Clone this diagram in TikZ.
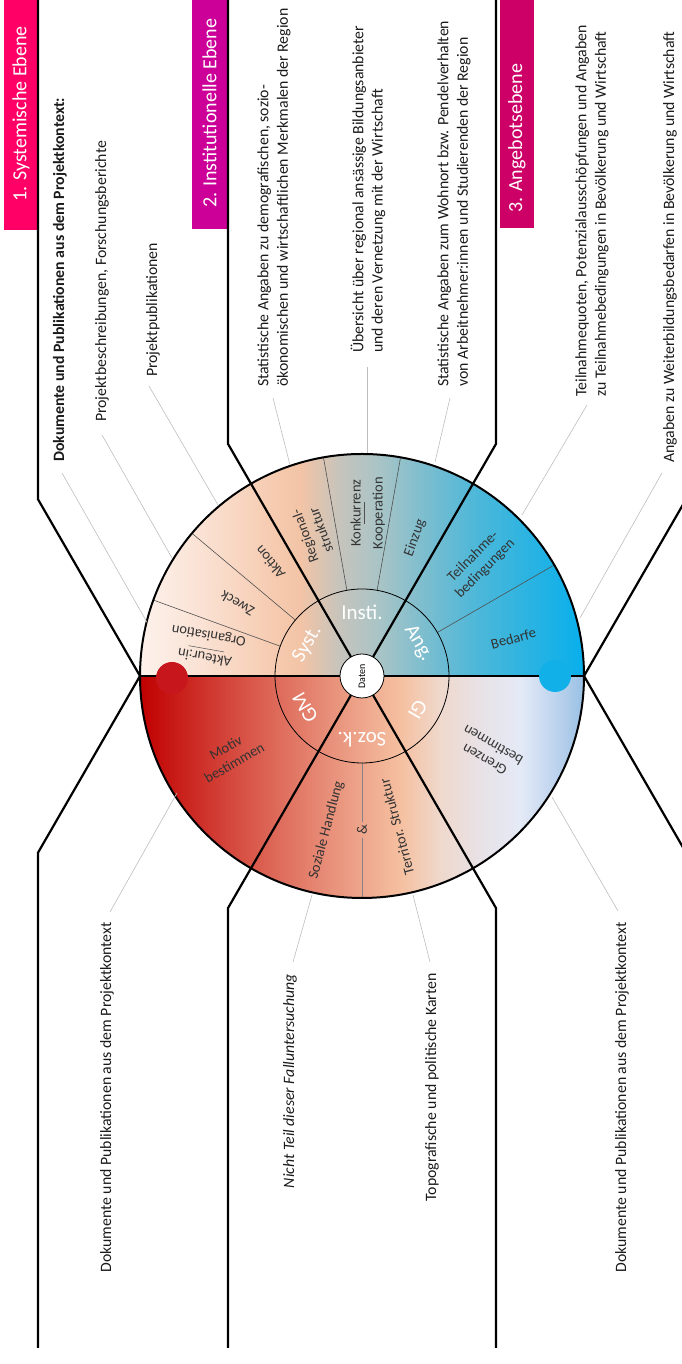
\documentclass[tikz,border=0pt]{standalone}
\usepackage{fontspec}
\setmainfont{Carlito}
\usetikzlibrary{calc}
\definecolor{hdrA}{HTML}{FF0066}
\definecolor{hdrB}{HTML}{CC0099}
\definecolor{hdrC}{HTML}{CC0066}
\definecolor{dotred}{HTML}{C8161D}
\definecolor{dotblue}{HTML}{12B0E8}
\definecolor{leadgray}{HTML}{BDBDBD}
\definecolor{divgray}{HTML}{505050}
\definecolor{lblgray}{HTML}{333333}
\definecolor{txtblack}{HTML}{1A1A1A}
% top half colours
\definecolor{ta}{HTML}{FDF2EC}
\definecolor{tb}{HTML}{FAE2D4}
\definecolor{tc}{HTML}{F6CCB2}
\definecolor{td}{HTML}{F3C4A6}
\definecolor{te}{HTML}{C6C4BC}
\definecolor{tf}{HTML}{A8C4C6}
\definecolor{tg}{HTML}{80BECE}
\definecolor{th}{HTML}{52B8D8}
\definecolor{ti}{HTML}{30B4E0}
\definecolor{tj}{HTML}{08AFEC}
% bottom half colours
\definecolor{ba}{HTML}{C00000}
\definecolor{bb}{HTML}{D9574A}
\definecolor{bc}{HTML}{E8907A}
\definecolor{bd}{HTML}{F5C0A0}
\definecolor{be}{HTML}{EFD8CC}
\definecolor{bf}{HTML}{E8E2E6}
\definecolor{bg}{HTML}{E4EAF6}
\definecolor{bh}{HTML}{B8D0EC}
\definecolor{bi}{HTML}{98C0E4}
\pgfdeclarehorizontalshading{topshade}{100bp}{color(0bp)=(ta); color(25bp)=(ta); color(31.8bp)=(tb); color(39.6bp)=(tc); color(43bp)=(td); color(47.5bp)=(te); color(52bp)=(tf); color(56.5bp)=(tg); color(62.2bp)=(th); color(67.8bp)=(ti); color(75bp)=(tj); color(100bp)=(tj)}
\pgfdeclarehorizontalshading{botshade}{100bp}{color(0bp)=(ba); color(25bp)=(ba); color(37.4bp)=(bb); color(46.4bp)=(bc); color(54.3bp)=(bd); color(58.8bp)=(be); color(63.3bp)=(bf); color(67.8bp)=(bg); color(72.3bp)=(bh); color(75bp)=(bi); color(100bp)=(bi)}
\begin{document}
\begin{tikzpicture}[x=1pt,y=1pt,
  laneline/.style={line width=2.2pt, black},
  hdrtxt/.style={text=white, font=\fontsize{20}{24}\selectfont, rotate=90, anchor=west, inner sep=0pt},
  lanetxt/.style={font=\fontsize{15.8}{19.3}\selectfont, rotate=90, align=left, inner sep=0pt, text=txtblack},
  leader/.style={leadgray, line width=0.6pt},
  divider/.style={divgray, line width=0.6pt},
  seclbl/.style={font=\fontsize{14.5}{17}\selectfont, text=lblgray, align=center, inner sep=0pt},
  innerlbl/.style={font=\fontsize{21}{24}\selectfont, text=white, inner sep=0pt}]
\clip (0,0) rectangle (682,1364);
\coordinate (C) at (362,688);
% gradient half discs
\shade[shading=topshade] (140,688) arc[start angle=180,end angle=0,radius=222] -- cycle;
\shade[shading=botshade] (140,688) arc[start angle=180,end angle=360,radius=222] -- cycle;
% thin sector dividers
\foreach \ang in {160,140,100,80,30}
  \draw[divider] ($(C)+(\ang:87)$) -- ($(C)+(\ang:222)$);
\node[seclbl, rotate=90, inner sep=3pt] (amp) at ($(C)+(270:154)$) {\&};
\draw[divider, divgray!70] ($(C)+(270:87)$) -- (amp);
\draw[divider, divgray!70] (amp) -- ($(C)+(270:222)$);
% inner ring
\draw[line width=0.8pt] (C) circle[radius=87];
% header boxes
\fill[hdrA] (4,1364) rectangle (38,1134);
\fill[hdrB] (192,1364) rectangle (227,1135);
\fill[hdrC] (500,1364) rectangle (534,1136);
\node[hdrtxt] (h1) at (21,1162) {1. Systemische Ebene};
\node[hdrtxt] (h2) at (209.5,1156) {2. Institutionelle Ebene};
\node[hdrtxt] (h3) at (517,1151) {3. Angebotsebene};
% lane boundary lines
\draw[laneline] (38,1364) -- (38,864.7) -- (140,688);
\draw[laneline] (228,1364) -- (228,920.1) -- (C);
\draw[laneline] (496,1364) -- (496,920.1) -- (C);
\draw[laneline] (584,688) -- (694,878.5) -- (694,1364);
\draw[laneline] (140,688) -- (38,511.3) -- (38,16);
\draw[laneline] (C) -- (228,455.9) -- (228,16);
\draw[laneline] (C) -- (496,455.9) -- (496,16);
\draw[laneline] (584,688) -- (694,497.5) -- (694,16);
\draw[laneline] (140,688) -- (584,688);
% outer circle
\draw[line width=2pt] (C) circle[radius=222];
% dots
\fill[dotred] (172,686) circle[radius=16];
\fill[dotblue] (555,688) circle[radius=16];
% centre
\node[circle, draw, fill=white, line width=0.8pt, minimum size=44pt, inner sep=0pt, rotate=90, font=\fontsize{10}{12}\selectfont] (daten) at (C) {Daten};
% inner labels
\node[innerlbl, rotate=60]  (syst) at ($(C)+(150:63)$) {Syst.};
\node[innerlbl, rotate=0]   (insti) at ($(C)+(90:64)$) {Insti.};
\node[innerlbl, rotate=-60] (ang) at ($(C)+(30:65)$) {Ang.};
\node[innerlbl, rotate=120] (gm) at ($(C)+(209:65)$) {GM};
\node[innerlbl, rotate=180] (sozk) at ($(C)+(270:64)$) {Soz.k.};
\node[innerlbl, rotate=240] (gi) at ($(C)+(329:65)$) {GI};
% outer sector labels
\node[seclbl, rotate=170] (akt) at ($(C)+(169:158)$) {Akteur:in\\[5pt]Organisation};
\draw[divgray, line width=0.5pt] ($(akt.center)+(260:3)+(170:-18)$) -- ($(akt.center)+(260:3)+(170:18)$);
\node[seclbl, rotate=150] (zweck) at ($(C)+(150:144)$) {Zweck};
\node[seclbl, rotate=130] (aktion) at ($(C)+(129:146)$) {Aktion};
\node[seclbl, rotate=110] (reg) at ($(C)+(109:151)$) {Regional-\\struktur};
\node[seclbl, rotate=90] (konk) at ($(C)+(88:163)$) {Konkurrenz\\[5pt]Kooperation};
\draw[divgray, line width=0.5pt] ($(konk.center)+(180:3)+(90:-11)$) -- ($(konk.center)+(180:3)+(90:11)$);
\node[seclbl, rotate=70] (einzug) at ($(C)+(69:148)$) {Einzug};
\node[seclbl, rotate=45] (teil) at ($(C)+(44:163)$) {Teilnahme-\\bedingungen};
\node[seclbl, rotate=15] (bedarfe) at ($(C)+(14:156)$) {Bedarfe};
\node[seclbl, rotate=30] (motiv) at ($(C)+(211:154)$) {Motiv\\bestimmen};
\node[seclbl, rotate=75] (soz) at ($(C)+(257:158)$) {Soziale Handlung};
\node[seclbl, rotate=105] (terr) at ($(C)+(283:155)$) {Territor. Struktur};
\node[seclbl, rotate=150] (grenz) at ($(C)+(329:148)$) {Grenzen\\bestimmen};
% lane texts, top
\node[lanetxt, anchor=west] (t1) at (60,902) {\textbf{Dokumente und Publikationen aus dem Projektkontext:}};
\node[lanetxt, anchor=west] (t2) at (102,942) {Projektbeschreibungen, Forschungsberichte};
\node[lanetxt, anchor=west] (t3) at (153,987) {Projektpublikationen};
\node[lanetxt, anchor=west] (t4) at (274,977) {Statistische Angaben zu demografischen, sozio-\\ökonomischen und wirtschaftlichen Merkmalen der Region};
\node[lanetxt, anchor=west] (t5) at (368,1011) {Übersicht über regional ansässige Bildungsanbieter\\und deren Vernetzung mit der Wirtschaft};
\node[lanetxt, anchor=west] (t6) at (454,977) {Statistische Angaben zum Wohnort bzw. Pendelverhalten\\von Arbeitnehmer:innen und Studierenden der Region};
\node[lanetxt, anchor=west] (t7) at (592,967) {Teilnahmequoten, Potenzialausschöpfungen und Angaben\\zu Teilnahmebedingungen in Bevölkerung und Wirtschaft};
\node[lanetxt, anchor=west] (t8) at (670,901) {Angaben zu Weiterbildungsbedarfen in Bevölkerung und Wirtschaft};
% lane texts, bottom
\node[lanetxt, anchor=east] (b1) at (107,442) {Dokumente und Publikationen aus dem Projektkontext};
\node[lanetxt, anchor=east] (b2) at (290,390) {\textit{Nicht Teil dieser Falluntersuchung}};
\node[lanetxt, anchor=east] (b3) at (432,391) {Topografische und politische Karten};
\node[lanetxt, anchor=east] (b4) at (622,442) {Dokumente und Publikationen aus dem Projektkontext};
% leaders
\coordinate (la1) at (62,891);  \coordinate (ea1) at (147,741.7);
\coordinate (la2) at (102,929); \coordinate (ea2) at (172,806);
\coordinate (la3) at (149,978); \coordinate (ea3) at (218,859);
\coordinate (lb1) at (273,966); \coordinate (eb1) at (290,899);
\coordinate (lb2) at (367,997); \coordinate (eb2) at (367,911);
\coordinate (lb3) at (450,966); \coordinate (eb3) at (435,902);
\coordinate (lc1) at (587,959); \coordinate (ec1) at (522,849);
\coordinate (lc2) at (662,891); \coordinate (ec2) at (580,746);
\coordinate (ld1) at (110,452); \coordinate (ed1) at (177,571);
\coordinate (ld2) at (293,402); \coordinate (ed2) at (312,469);
\coordinate (ld3) at (430,402); \coordinate (ed3) at (413,469);
\coordinate (ld4) at (618,453); \coordinate (ed4) at (552,567);
\foreach \p in {a1,a2,a3,b1,b2,b3,c1,c2,d1,d2,d3,d4}
  \draw[leader] (l\p) -- (e\p);
\end{tikzpicture}
\end{document}
